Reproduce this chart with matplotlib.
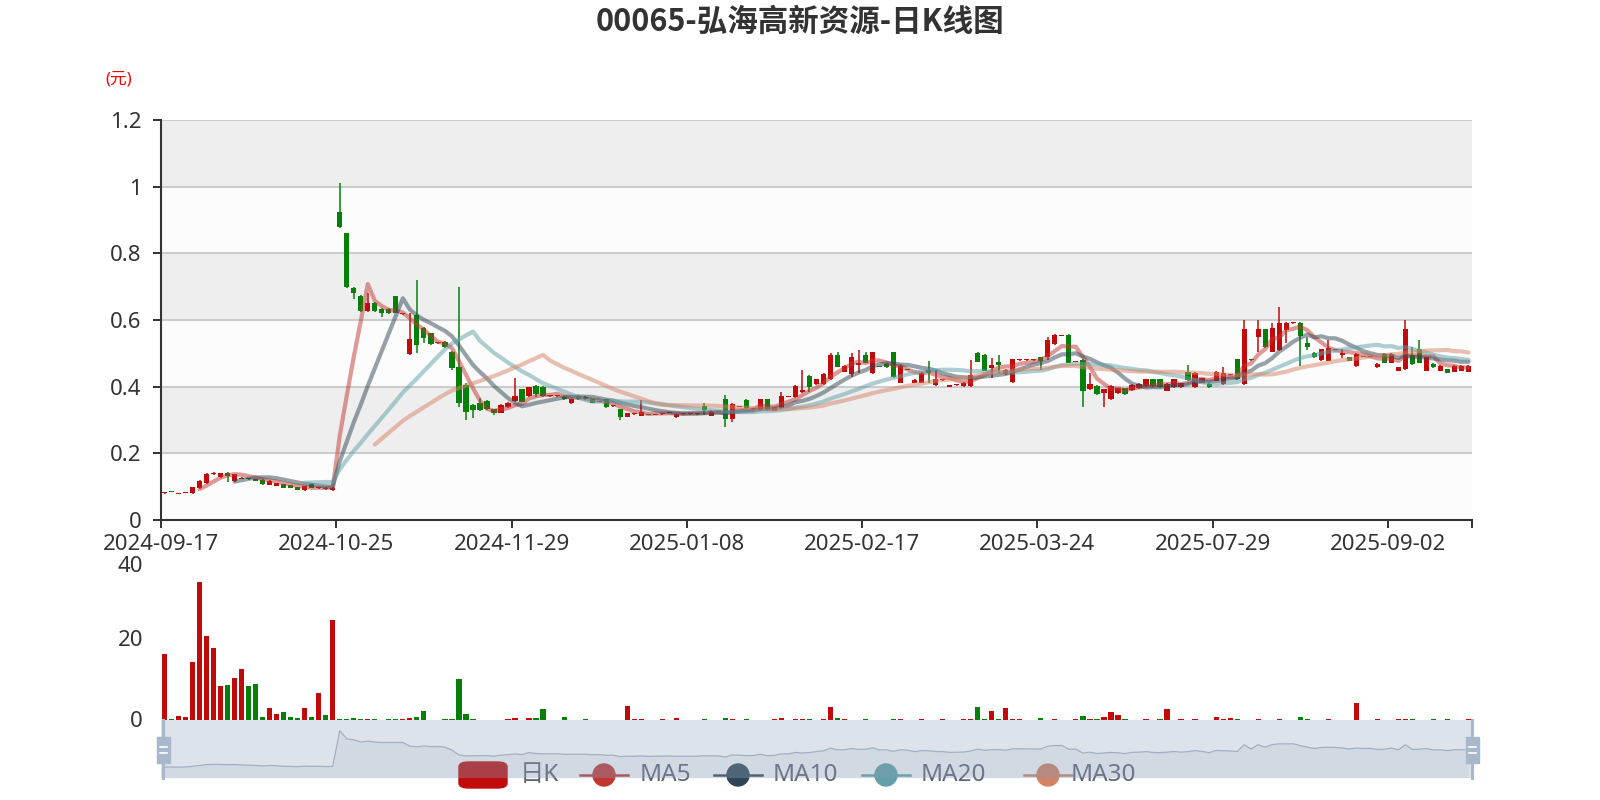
import numpy as np
import matplotlib
matplotlib.use('Agg')
import matplotlib.pyplot as plt
import matplotlib.transforms as mtransforms
from matplotlib.patches import FancyBboxPatch, Rectangle, Ellipse
from matplotlib.lines import Line2D

plt.rcParams['font.family'] = ['Noto Sans', 'Noto Sans CJK SC', 'DejaVu Sans']

# ---- data ---------------------------------------------------------
title = '00065-弘海高新资源-日K线图'
tick_labels = ['2024-09-17', '2024-10-25', '2024-11-29', '2025-01-08',
               '2025-02-17', '2025-03-24', '2025-07-29', '2025-09-02']
ytick_vals = [0, 0.2, 0.4, 0.6, 0.8, 1.0, 1.2]
ytick_text = ['0', '0.2', '0.4', '0.6', '0.8', '1', '1.2']
vtick_vals = [0, 20, 40]

# open, close, high, low per trading day
ohlc = [
    (.080, .081, .082, .079), (.086, .084, .087, .083), (.079, .080, .081, .078), (.081, .083, .084, .080),
    (.080, .098, .099, .079), (.095, .118, .120, .094), (.110, .137, .140, .108), (.137, .141, .143, .135),
    (.128, .140, .142, .126), (.141, .133, .143, .115), (.117, .137, .138, .115), (.124, .127, .128, .122),
    (.126, .122, .127, .121), (.123, .118, .124, .116), (.121, .107, .122, .105), (.106, .118, .119, .105),
    (.103, .111, .112, .102), (.108, .097, .109, .096), (.105, .097, .106, .095), (.099, .091, .100, .090),
    (.089, .101, .102, .088), (.108, .097, .112, .095), (.095, .098, .099, .094), (.097, .093, .098, .091),
    (.091, .097, .098, .088), (.925, .880, 1.010, .875), (.860, .700, .862, .695), (.695, .680, .700, .662),
    (.672, .628, .675, .625), (.628, .652, .680, .625), (.652, .628, .655, .625), (.632, .620, .635, .610),
    (.632, .622, .635, .618), (.672, .622, .672, .620), (.618, .620, .622, .616), (.498, .542, .620, .495),
    (.615, .525, .720, .500), (.575, .545, .578, .530), (.560, .528, .562, .525), (.530, .533, .535, .528),
    (.535, .518, .537, .515), (.505, .455, .507, .450), (.460, .350, .700, .338), (.405, .325, .410, .300),
    (.345, .330, .347, .305), (.350, .330, .365, .328), (.358, .332, .360, .330), (.332, .320, .334, .315),
    (.322, .345, .347, .320), (.338, .352, .354, .336), (.357, .372, .425, .355), (.392, .355, .394, .353),
    (.372, .398, .400, .370), (.402, .378, .404, .370), (.400, .372, .402, .368), (.371, .373, .375, .369),
    (.371, .373, .374, .370), (.370, .362, .372, .360), (.350, .362, .364, .348), (.372, .362, .374, .360),
    (.370, .362, .372, .360), (.362, .352, .364, .350), (.354, .356, .357, .353), (.362, .338, .364, .336),
    (.341, .343, .344, .340), (.332, .310, .334, .300), (.310, .320, .322, .308), (.317, .319, .320, .316),
    (.313, .325, .360, .311), (.318, .316, .319, .315), (.316, .318, .319, .315), (.317, .319, .320, .316),
    (.322, .324, .325, .321), (.308, .318, .319, .305), (.317, .319, .320, .316), (.317, .319, .320, .316),
    (.317, .319, .320, .316), (.342, .330, .350, .315), (.313, .328, .330, .311), (.324, .326, .327, .323),
    (.362, .302, .375, .280), (.302, .348, .352, .295), (.339, .341, .342, .338), (.360, .335, .362, .333),
    (.332, .334, .335, .331), (.330, .362, .364, .328), (.362, .330, .364, .328), (.328, .338, .340, .326),
    (.335, .372, .385, .333), (.369, .371, .372, .368), (.368, .402, .404, .366), (.385, .390, .450, .382),
    (.432, .400, .434, .385), (.408, .422, .424, .406), (.408, .438, .440, .406), (.422, .495, .500, .420),
    (.495, .460, .505, .458), (.445, .462, .464, .443), (.438, .488, .500, .428), (.465, .470, .510, .440),
    (.495, .472, .505, .470), (.440, .503, .505, .438), (.461, .459, .462, .458), (.468, .458, .470, .456),
    (.503, .428, .505, .426), (.412, .462, .464, .410), (.453, .451, .454, .450), (.412, .420, .422, .410),
    (.412, .442, .444, .410), (.450, .440, .478, .412), (.405, .422, .450, .403), (.419, .421, .422, .418),
    (.400, .405, .406, .399), (.404, .406, .407, .403), (.402, .412, .414, .400), (.402, .435, .480, .400),
    (.500, .475, .505, .473), (.495, .448, .497, .446), (.455, .465, .485, .425), (.475, .465, .495, .440),
    (.438, .450, .452, .436), (.413, .482, .484, .411), (.479, .481, .482, .478), (.479, .481, .482, .478),
    (.479, .481, .482, .478), (.488, .478, .490, .450), (.490, .540, .550, .480), (.528, .555, .557, .526),
    (.552, .555, .556, .551), (.555, .472, .557, .470), (.474, .476, .477, .473), (.480, .388, .482, .340),
    (.392, .408, .440, .390), (.402, .378, .404, .376), (.380, .392, .394, .340), (.362, .402, .404, .360),
    (.380, .395, .397, .378), (.395, .378, .397, .376), (.390, .405, .407, .388), (.396, .408, .410, .394),
    (.402, .422, .424, .400), (.422, .402, .424, .400), (.422, .398, .424, .396), (.388, .408, .410, .386),
    (.398, .422, .424, .396), (.398, .410, .412, .396), (.445, .420, .465, .418), (.398, .442, .444, .396),
    (.412, .425, .427, .410), (.408, .398, .410, .396), (.418, .445, .447, .416), (.408, .440, .460, .406),
    (.434, .436, .437, .433), (.482, .422, .484, .420), (.408, .572, .600, .405), (.481, .479, .482, .478),
    (.550, .572, .600, .505), (.572, .518, .574, .516), (.505, .575, .590, .503), (.510, .592, .640, .508),
    (.570, .590, .595, .530), (.590, .593, .594, .589), (.592, .552, .594, .462), (.530, .520, .550, .510),
    (.502, .488, .504, .486), (.480, .512, .514, .478), (.478, .515, .540, .476), (.511, .513, .514, .510),
    (.495, .500, .512, .485), (.488, .478, .490, .476), (.462, .498, .500, .460), (.491, .489, .492, .488),
    (.489, .491, .492, .488), (.458, .468, .470, .456), (.498, .472, .500, .470), (.472, .498, .500, .470),
    (.448, .458, .460, .446), (.452, .572, .600, .450), (.495, .468, .520, .466), (.512, .472, .540, .470),
    (.448, .488, .490, .446), (.468, .458, .470, .456), (.448, .462, .464, .446), (.452, .442, .454, .440),
    (.445, .462, .464, .443), (.448, .462, .464, .446), (.445, .462, .464, .443),
]

volumes = [
    16.4, 0.2, 0.9, 0.7, 14.3, 34.2, 20.9, 17.9, 8.5, 8.7, 10.4, 12.6, 8.5, 8.9, 0.7, 3.1,
    1.4, 2.1, 0.75, 0.4, 3.1, 0.75, 6.8, 1.2, 24.9, 0.3, 0.3, 0.5, 0.2, 0.2, 0.2, 0.1,
    0.2, 0.2, 0.2, 0.5, 0.75, 2.2, 0.1, 0.1, 0.2, 0.2, 10.3, 1.5, 0.3, 0.1, 0.1, 0.1,
    0.1, 0.2, 0.5, 0.1, 0.5, 0.5, 2.7, 0.1, 0.1, 0.7, 0.1, 0.1, 0.2, 0.1, 0.1, 0.1,
    0.1, 0.1, 3.5, 0.2, 0.2, 0.1, 0.1, 0.2, 0.1, 0.5, 0.1, 0.1, 0.1, 0.2, 0.1, 0.1,
    0.5, 0.2, 0.1, 0.2, 0.1, 0.1, 0.1, 0.2, 0.4, 0.1, 0.2, 0.25, 0.25, 0.1, 0.2, 3.2,
    0.4, 0.2, 0.1, 0.1, 0.2, 0.1, 0.1, 0.1, 0.2, 0.2, 0.1, 0.1, 0.2, 0.1, 0.1, 0.2,
    0.1, 0.1, 0.2, 0.3, 3.3, 0.2, 2.3, 0.2, 3.1, 0.2, 0.2, 0.1, 0.1, 0.4, 0.1, 0.2,
    0.1, 0.1, 0.2, 1.1, 0.2, 0.25, 0.7, 1.9, 1.25, 0.2, 0.1, 0.1, 0.2, 0.1, 0.2, 2.7,
    0.1, 0.2, 0.1, 0.2, 0.1, 0.1, 0.8, 0.2, 0.6, 0.2, 0.1, 0.1, 0.2, 0.1, 0.1, 0.2,
    0.1, 0.1, 0.7, 0.2, 0.1, 0.1, 0.2, 0.1, 0.1, 0.1, 4.2, 0.1, 0.1, 0.2, 0.1, 0.1,
    0.2, 0.2, 0.2, 0.1, 0.1, 0.2, 0.1, 0.2, 0.1, 0.1, 0.2,
]

ma_days = [5, 10, 20, 30]
ma_colors = ['#c23531', '#2f4554', '#61a0a8', '#d48265']

RED = '#c20a0a'
GREEN = '#07800a'

# ---- prep -----------------------------------------------------------
arr = np.array(ohlc)
opens, closes, highs, lows = arr[:, 0], arr[:, 1], arr[:, 2], arr[:, 3]
vols = np.array(volumes)
n = len(closes)
x = np.arange(n)
up = closes >= opens
cols = np.where(up, RED, GREEN)


def moving_avg(days):
    out = np.full(n, np.nan)
    for i in range(days, n):
        out[i] = closes[i - days + 1:i + 1].mean()
    return out


W, H = 1600, 800


def px_rect(l, t, r, b):
    return [l / W, 1 - b / H, (r - l) / W, (b - t) / H]


fig = plt.figure(figsize=(16, 8), dpi=100)
fig.patch.set_facecolor('white')

# ---- price chart ----------------------------------------------------
ax = fig.add_axes(px_rect(161, 120, 1472, 520))
ax.set_xlim(-0.5, n - 0.5)
ax.set_ylim(0, 1.2)
band_cols = ['#fcfcfc', '#eeeeee']
for k in range(len(ytick_vals) - 1):
    ax.axhspan(ytick_vals[k], ytick_vals[k + 1], color=band_cols[k % 2], lw=0, zorder=0)
for yv in ytick_vals[1:]:
    ax.axhline(yv, color='#cccccc', lw=1.5, zorder=1)

ax.vlines(x, lows, highs, colors=cols, lw=1.1, zorder=3)
body_bottom = np.minimum(opens, closes)
body_h = np.maximum(np.abs(closes - opens), 0.003)
ax.bar(x, body_h, 0.74, bottom=body_bottom, color=cols, lw=0, zorder=4)

for d, c in zip(ma_days, ma_colors):
    ax.plot(x, moving_avg(d), color=c, alpha=0.5, lw=3.0, zorder=5,
            solid_joinstyle='round', solid_capstyle='round')

ax.set_yticks(ytick_vals)
ax.set_yticklabels(ytick_text)
ax.set_xticks([25 * k - 0.5 for k in range(len(tick_labels))] + [n - 0.5])
ax.set_xticklabels(tick_labels + [''])
for s in ['top', 'right']:
    ax.spines[s].set_visible(False)
for s in ['left', 'bottom']:
    ax.spines[s].set_color('#333333')
    ax.spines[s].set_linewidth(1.5)
ax.tick_params(axis='both', colors='#333333', labelsize=16, length=6, width=1.4)
ax.tick_params(axis='x', pad=4)
ax.tick_params(axis='y', pad=8)

fig.text(119 / W, 1 - 79 / H, '(元)', color='#ff0000', fontsize=12, ha='center', va='center')
fig.text(0.5, 1 - 22 / H, title, fontsize=22, fontweight='bold', color='#333333',
         ha='center', va='center', family=['Noto Sans CJK SC', 'DejaVu Sans'])

# ---- volume chart ---------------------------------------------------
axv = fig.add_axes(px_rect(161, 559, 1472, 720))
axv.set_xlim(-0.5, n - 0.5)
axv.set_ylim(0, 40)
axv.patch.set_alpha(0)
axv.bar(x, vols, 0.74, color=cols, lw=0)
for s in axv.spines.values():
    s.set_visible(False)
axv.set_xticks([])
axv.set_yticks([])
# y labels drawn by hand so the top one can sit a touch lower, clear of the date labels
ylab_tr = mtransforms.blended_transform_factory(fig.transFigure, axv.transData)
for v in vtick_vals:
    dy = -7 if v == vtick_vals[-1] else -1.5
    shift = mtransforms.ScaledTranslation(0, dy / 100, fig.dpi_scale_trans)
    axv.text(143 / W, v, str(v), transform=ylab_tr + shift, ha='right', va='center',
             fontsize=16, color='#333333')

# ---- legend (under the slider) --------------------------------------
ly = 1 - 775 / H
leg_box = FancyBboxPatch((459 / W, 1 - 788 / H), 48 / W, 26 / H,
                         boxstyle='round,pad=0,rounding_size=0.006',
                         transform=fig.transFigure, color=RED, zorder=5)
fig.patches.append(leg_box)
fig.text(520 / W, ly, '日K', fontsize=17.5, color='#5d6675', ha='left', va='center', zorder=5)
leg_items = [('MA5', 580, 640), ('MA10', 714, 773), ('MA20', 862, 921), ('MA30', 1024, 1071)]
for (lab, ix, tx), c in zip(leg_items, ma_colors):
    fig.lines.append(Line2D([ix / W, (ix + 48) / W], [ly, ly], transform=fig.transFigure,
                            color=c, lw=1.8, zorder=5))
    fig.patches.append(Ellipse(((ix + 24) / W, ly), 22 / W, 22 / H, transform=fig.transFigure,
                               color=c, zorder=5))
    fig.text(tx / W, ly, lab, fontsize=17.5, color='#5d6675', ha='left', va='center', zorder=5)

# ---- dataZoom slider ------------------------------------------------
axs = fig.add_axes(px_rect(161, 720, 1472, 778))
axs.set_zorder(10)
axs.set_xlim(-0.5, n - 0.5)
axs.set_ylim(-0.158, 1.114)
axs.patch.set_facecolor('#8fa3bb')
axs.patch.set_alpha(0.3)
axs.fill_between(x, closes, -0.158, color='#6f84a0', alpha=0.1, lw=0)
axs.plot(x, closes, color='#a3afc0', lw=0.9)
for s in axs.spines.values():
    s.set_visible(False)
axs.set_xticks([])
axs.set_yticks([])
for hx in [163, 1472]:
    axs.add_artist(Line2D([hx / W, hx / W], [1 - 720 / H, 1 - 778 / H], transform=fig.transFigure,
                          color='#a7b7cc', lw=2.2, clip_on=False))
    axs.add_patch(Rectangle(((hx - 6.5) / W, 1 - 763 / H), 13 / W, 26 / H, transform=fig.transFigure,
                            color='#a7b7cc', clip_on=False, zorder=6))
    for hy in [747, 753]:
        axs.add_artist(Line2D([(hx - 3.5) / W, (hx + 3.5) / W], [1 - hy / H, 1 - hy / H],
                              transform=fig.transFigure, color='white', lw=1.2, clip_on=False,
                              zorder=7))

fig.savefig('out.png', dpi=100)
